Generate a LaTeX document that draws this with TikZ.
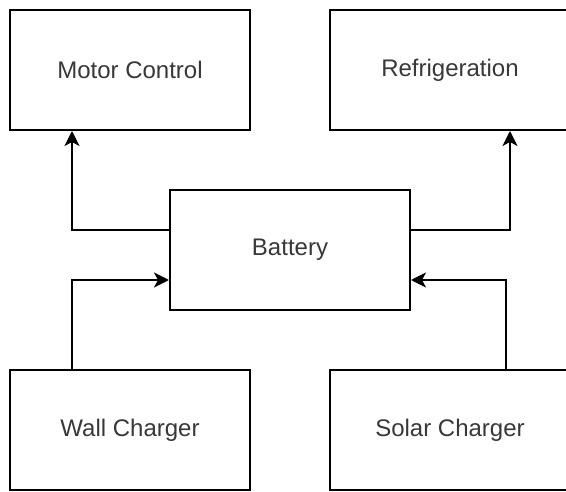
\documentclass[tikz,border=0pt]{standalone}
\usepackage{fontspec}
\setmainfont{Liberation Sans}
\usetikzlibrary{arrows.meta}
\begin{document}
\begin{tikzpicture}[x=1pt,y=-1pt,
  blockbox/.style={draw=black, line width=2pt, fill=white, minimum width=240pt, minimum height=120pt, inner sep=0pt, text=black!78, font=\fontsize{24}{28}\selectfont},
  conn/.style={draw=black, line width=2pt, -{Stealth[length=15pt,width=15pt,inset=4pt]}}]
  \fill[white] (0,0) rectangle (566,492);
  \useasboundingbox (0,0) rectangle (566,492);
  \clip (0,0) rectangle (566,492);
  \node[blockbox] (mc) at (130,70) {Motor Control};
  \node[blockbox] (rf) at (450,70) {Refrigeration};
  \node[blockbox] (bat) at (290,250) {Battery};
  \node[blockbox] (wc) at (130,430) {Wall Charger};
  \node[blockbox] (sc) at (450,430) {Solar Charger};
  \draw[conn] ([yshift=20pt]bat.west) -| ([xshift=-58pt]mc.south);
  \draw[conn] ([xshift=-58pt]wc.north) |- ([yshift=-30pt]bat.west);
  \draw[conn] ([yshift=20pt]bat.east) -| ([xshift=60pt]rf.south);
  \draw[conn] ([xshift=56pt]sc.north) |- ([yshift=-30pt]bat.east);
\end{tikzpicture}
\end{document}
